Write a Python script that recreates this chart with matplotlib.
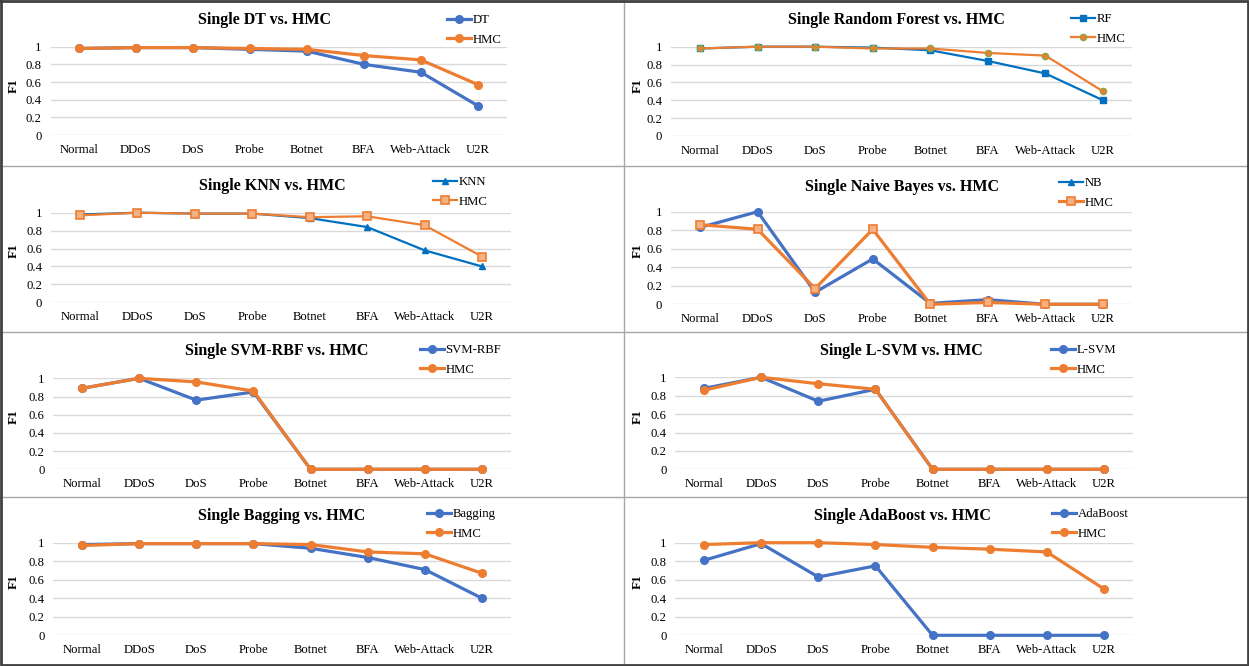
import matplotlib
matplotlib.use("Agg")
import matplotlib.pyplot as plt
from matplotlib.lines import Line2D

plt.rcParams['font.family'] = ['Liberation Serif', 'DejaVu Serif']

categories = ["Normal", "DDoS", "DoS", "Probe", "Botnet", "BFA", "Web-Attack", "U2R"]
y_ticks = [0, 0.2, 0.4, 0.6, 0.8, 1]
y_tick_labels = ["0", "0.2", "0.4", "0.6", "0.8", "1"]

dt_vals = [0.98, 0.99, 0.99, 0.97, 0.95, 0.80, 0.71, 0.33]
dt_hmc = [0.98, 0.99, 0.99, 0.98, 0.97, 0.90, 0.85, 0.57]

rf_vals = [0.98, 1.00, 1.00, 0.99, 0.96, 0.84, 0.70, 0.40]
rf_hmc = [0.98, 1.00, 1.00, 0.98, 0.98, 0.93, 0.90, 0.50]

knn_vals = [0.98, 1.00, 0.99, 0.99, 0.94, 0.84, 0.58, 0.40]
knn_hmc = [0.97, 1.00, 0.99, 0.99, 0.95, 0.96, 0.86, 0.51]

nb_vals = [0.83, 1.00, 0.13, 0.49, 0.01, 0.05, 0.00, 0.00]
nb_hmc = [0.86, 0.81, 0.17, 0.81, 0.00, 0.02, 0.00, 0.00]

svm_rbf_vals = [0.89, 1.00, 0.76, 0.85, 0.00, 0.00, 0.00, 0.00]
svm_rbf_hmc = [0.89, 1.00, 0.96, 0.86, 0.00, 0.00, 0.00, 0.00]

lsvm_vals = [0.88, 1.00, 0.74, 0.87, 0.00, 0.00, 0.00, 0.00]
lsvm_hmc = [0.86, 1.00, 0.93, 0.87, 0.00, 0.00, 0.00, 0.00]

bag_vals = [0.98, 0.99, 0.99, 0.99, 0.94, 0.84, 0.71, 0.40]
bag_hmc = [0.97, 0.99, 0.99, 0.99, 0.98, 0.90, 0.88, 0.67]

ada_vals = [0.81, 0.99, 0.63, 0.75, 0.00, 0.00, 0.00, 0.00]
ada_hmc = [0.98, 1.00, 1.00, 0.98, 0.95, 0.93, 0.90, 0.50]

W, H = 1249, 666
fig = plt.figure(figsize=(W / 100, H / 100), dpi=100)

BLUE = '#4472C4'
ORANGE = '#ED7D31'
BLUE2 = '#0070C0'

thick_a = dict(color=BLUE, lw=2.3, marker='o', ms=5.5)
thick_b = dict(color=ORANGE, lw=2.3, marker='o', ms=5.5)

panels = [
    dict(title="Single DT vs. HMC", name="DT", a=dt_vals, b=dt_hmc,
         geo=(79, 478, 46.7, 135), pl=(0, 0), tx=265, ty=20, lx=447, ly=14,
         sa=thick_a, sb=thick_b),
    dict(title="Single Random Forest vs. HMC", name="RF", a=rf_vals, b=rf_hmc,
         geo=(700, 1103, 46.7, 136), pl=(624, 0), tx=896, ty=20, lx=1071, ly=13,
         sa=dict(color=BLUE2, lw=1.6, marker='s', ms=5),
         sb=dict(color=ORANGE, lw=1.6, marker='o', ms=4.5, mec='#8FA543', mew=1.0)),
    dict(title="Single KNN vs. HMC", name="KNN", a=knn_vals, b=knn_hmc,
         geo=(80, 482, 212.7, 302.3), pl=(0, 165), tx=272, ty=186, lx=433, ly=176,
         sa=dict(color=BLUE2, lw=1.6, marker='^', ms=5),
         sb=dict(color=ORANGE, lw=1.6, marker='s', ms=5.5, mfc='#F4B183', mec=ORANGE, mew=1.2)),
    dict(title="Single Naive Bayes vs. HMC", name="NB", a=nb_vals, b=nb_hmc,
         geo=(700, 1103, 211.7, 304.3), pl=(624, 165), tx=902, ty=187, lx=1059, ly=177,
         sa=thick_a,
         sb=dict(color=ORANGE, lw=2.3, marker='s', ms=5.5, mfc='#F4B183', mec=ORANGE, mew=1.2),
         la=dict(color=BLUE2, lw=1.6, marker='^', ms=5)),
    dict(title="Single SVM-RBF vs. HMC", name="SVM-RBF", a=svm_rbf_vals, b=svm_rbf_hmc,
         geo=(82, 482, 378.3, 469.3), pl=(0, 331), tx=277, ty=351, lx=420, ly=344,
         sa=thick_a, sb=thick_b),
    dict(title="Single L-SVM vs. HMC", name="L-SVM", a=lsvm_vals, b=lsvm_hmc,
         geo=(704, 1104, 377.3, 469.3), pl=(624, 331), tx=901, ty=351, lx=1051, ly=344,
         sa=thick_a, sb=thick_b),
    dict(title="Single Bagging vs. HMC", name="Bagging", a=bag_vals, b=bag_hmc,
         geo=(82, 482, 542.7, 635.3), pl=(0, 496), tx=282, ty=516, lx=427, ly=508,
         sa=thick_a, sb=thick_b),
    dict(title="Single AdaBoost vs. HMC", name="AdaBoost", a=ada_vals, b=ada_hmc,
         geo=(704, 1104, 542.7, 635.3), pl=(624, 496), tx=902, ty=516, lx=1052, ly=508,
         sa=thick_a, sb=thick_b),
]

xs = list(range(len(categories)))

for p in panels:
    x_first, x_last, y1, y0 = p['geo']
    sp = (x_last - x_first) / 7
    left = x_first - sp / 2
    width = sp * 8
    ax = fig.add_axes([left / W, 1 - y0 / H, width / W, (y0 - y1) / H])
    ax.set_xlim(-0.5, 7.5)
    ax.set_ylim(0, 1)
    for s in ax.spines.values():
        s.set_visible(False)
    ax.set_yticks(y_ticks)
    ax.set_yticklabels(y_tick_labels)
    ax.set_xticks(xs)
    ax.set_xticklabels(categories)
    ax.tick_params(axis='both', length=0, labelsize=9.2, colors='black')
    ax.tick_params(axis='y', pad=6.5)
    ax.tick_params(axis='x', pad=6.5)
    ax.grid(axis='y', color='#D9D9D9', lw=1.0)
    ax.set_axisbelow(True)
    la, = ax.plot(xs, p['a'], clip_on=False, zorder=3, **p['sa'])
    lb, = ax.plot(xs, p['b'], clip_on=False, zorder=4, **p['sb'])
    ha = la
    if 'la' in p:
        ha = Line2D([], [], **p['la'])
    fig.legend([ha, lb], [p['name'], "HMC"], loc='upper left',
               bbox_to_anchor=(p['lx'] / W, 1 - p['ly'] / H),
               frameon=False, fontsize=9.2, handlelength=1.85, handletextpad=0.15,
               labelspacing=0.62, borderaxespad=0, borderpad=0)
    fig.text(p['tx'] / W, 1 - p['ty'] / H, p['title'], ha='center', va='center',
             fontsize=11.5, fontweight='bold')
    px, py = p['pl']
    fig.text((px + 14) / W, 1 - (py + 86) / H, "F1", ha='center', va='center',
             rotation=90, fontsize=9.5, fontweight='bold')

# panel borders
border_ax = fig.add_axes([0, 0, 1, 1], zorder=-1)
border_ax.set_xlim(0, W)
border_ax.set_ylim(H, 0)
border_ax.axis('off')
for yy in [166, 332, 497]:
    border_ax.plot([0, W], [yy, yy], color='#A6A6A6', lw=1.0)
border_ax.plot([624, 624], [0, H], color='#A6A6A6', lw=1.0)
border_ax.plot([1, W - 1, W - 1, 1, 1], [1, 1, H - 1.5, H - 1.5, 1], color='#404040', lw=2.0)

fig.savefig("out.png", dpi=100)
